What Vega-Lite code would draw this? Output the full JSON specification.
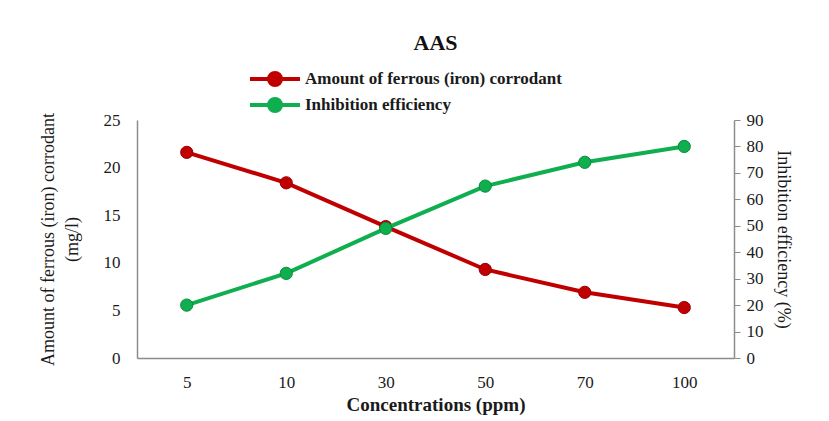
{
  "$schema": "https://vega.github.io/schema/vega-lite/v6.json",
  "autosize": "none",
  "width": 597,
  "height": 238,
  "padding": {"left": 137, "top": 120, "right": 95, "bottom": 63},
  "background": "white",
  "title": {"text": "AAS", "font": "Liberation Serif", "fontSize": 22, "fontWeight": "bold", "color": "#111", "anchor": "middle", "frame": "group", "offset": 12},
  "config": {
    "view": {"stroke": null},
    "axis": {"labelFont": "Liberation Serif", "titleFont": "Liberation Serif", "labelFontSize": 17, "titleFontSize": 18, "labelColor": "#1a1a1a", "titleColor": "#1a1a1a", "domainColor": "#8c8c8c", "domainWidth": 1.5, "tickColor": "#8c8c8c", "grid": false, "titleFontWeight": "normal"}
  },
  "data": {"values": [
    {"conc": "5", "iron": 21.6, "ie": 20},
    {"conc": "10", "iron": 18.4, "ie": 32},
    {"conc": "30", "iron": 13.8, "ie": 49},
    {"conc": "50", "iron": 9.3, "ie": 65},
    {"conc": "70", "iron": 6.9, "ie": 74},
    {"conc": "100", "iron": 5.3, "ie": 80}
  ]},
  "encoding": {
    "x": {"field": "conc", "type": "ordinal", "sort": null, "scale": {"type": "point", "padding": 0.5},
      "axis": {"title": "Concentrations (ppm)", "titleFontWeight": "bold", "titleFontSize": 19, "labelAngle": 0, "ticks": false, "labelPadding": 16, "titlePadding": 5}}
  },
  "layer": [
    {
      "encoding": {
        "y": {"field": "iron", "type": "quantitative", "scale": {"domain": [0, 25]},
          "axis": {"title": ["Amount of ferrous (iron) corrodant", "(mg/l)"], "values": [0,5,10,15,20,25], "ticks": false, "labelPadding": 17, "titlePadding": 22, "titleLineHeight": 24}},
        "color": {"datum": "Amount of ferrous (iron) corrodant", "type": "nominal",
          "scale": {"domain": ["Amount of ferrous (iron) corrodant", "Inhibition efficiency"], "range": ["#c00000", "#0fae4f"]},
          "legend": {"title": null, "orient": "none", "legendX": 126, "legendY": -53, "labelFont": "Liberation Serif", "labelFontSize": 17, "labelFontWeight": "bold", "labelColor": "#1a1a1a", "labelLimit": 500, "symbolType": "M-2.5,0L2.5,0M-0.6,0A0.6,0.6 0 1,0 0.6,0A0.6,0.6 0 1,0 -0.6,0Z", "symbolSize": 400, "symbolStrokeWidth": 4, "rowPadding": -2, "labelOffset": 18}}
      },
      "layer": [
        {"mark": {"type": "line", "strokeWidth": 4}},
        {"mark": {"type": "point", "filled": true, "size": 150, "opacity": 1, "stroke": "#9a0000", "strokeWidth": 1}}
      ]
    },
    {
      "encoding": {
        "y": {"field": "ie", "type": "quantitative", "scale": {"domain": [0, 90]},
          "axis": {"orient": "right", "title": "Inhibition efficiency (%)", "values": [0,10,20,30,40,50,60,70,80,90], "tickSize": 6, "labelPadding": 6, "titlePadding": 10}},
        "color": {"datum": "Inhibition efficiency", "type": "nominal"}
      },
      "layer": [
        {"mark": {"type": "line", "strokeWidth": 4}},
        {"mark": {"type": "point", "filled": true, "size": 150, "opacity": 1, "stroke": "#0a8a3c", "strokeWidth": 1}}
      ]
    }
  ],
  "resolve": {"scale": {"y": "independent"}}
}
